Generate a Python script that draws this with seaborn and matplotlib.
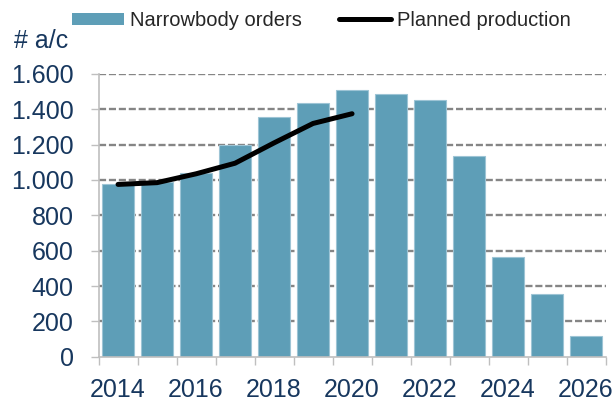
import matplotlib
matplotlib.use("Agg")
import matplotlib.pyplot as plt
import seaborn as sns
import pandas as pd
import numpy as np
from matplotlib.lines import Line2D
from matplotlib.patches import Patch

# Narrowbody orders per year and planned production (aircraft)
years = [2014, 2015, 2016, 2017, 2018, 2019, 2020, 2021, 2022, 2023, 2024, 2025, 2026]
orders = [975, 990, 1038, 1200, 1355, 1434, 1508, 1489, 1455, 1136, 562, 357, 117]
prod_years = [2014, 2015, 2016, 2017, 2018, 2019, 2020]
planned = [975, 985, 1035, 1095, 1210, 1320, 1375]
ytick_labels = ["0", "200", "400", "600", "800", "1.000", "1.200", "1.400", "1.600"]

BAR = "#5E9EB7"
TXT = "#17375E"
AXC = "#BFBFBF"

sns.set_theme(style="white")
plt.rcParams["font.family"] = ["Liberation Sans", "DejaVu Sans"]

fig = plt.figure(figsize=(6.16, 4.01), dpi=100)
ax = fig.add_axes([0.160, 0.1105, 0.823, 0.705])

df_bar = pd.DataFrame({"year": years, "orders": orders})
df_line = pd.DataFrame({"year": prod_years, "planned": planned})

sns.barplot(data=df_bar, x="year", y="orders", native_scale=True, width=0.83,
            color=BAR, saturation=1, edgecolor="#9DC4D5", linewidth=0.8,
            ax=ax, zorder=2)
sns.lineplot(data=df_line, x="year", y="planned", color="black", linewidth=3.6,
             ax=ax, zorder=3, solid_capstyle="round", solid_joinstyle="round")

ax.set_xlim(years[0] - 0.5, years[-1] + 0.5)
ax.set_ylim(0, 1600)

# dashed horizontal gridlines behind the bars
yt = np.arange(0, 1601, 200)
for v in yt[1:]:
    ax.axhline(v, color="#858585", linewidth=1.7, linestyle=(0, (3.0, 1.2)), zorder=1)

ax.set_yticks(yt)
ax.set_yticklabels(ytick_labels)
ax.set_xticks(years[::2])
ax.set_xticklabels([str(y) for y in years[::2]])
ax.set_xticks(np.arange(years[0] - 0.5, years[-1] + 1, 1.0), minor=True)

ax.tick_params(axis="x", which="major", length=0, pad=15.5, labelsize=18, labelcolor=TXT)
ax.tick_params(axis="x", which="minor", length=5.5, width=1, color=AXC, bottom=True)
ax.tick_params(axis="y", which="major", length=5.5, width=1, color=AXC, pad=12.5,
               labelsize=18, labelcolor=TXT, left=True)

ax.set_xlabel("")
ax.set_ylabel("")
for s in ["top", "right"]:
    ax.spines[s].set_visible(False)
for s in ["left", "bottom"]:
    ax.spines[s].set_color(AXC)
    ax.spines[s].set_linewidth(1.2)

fig.text(14 / 616, 1 - 41 / 401, "# a/c", fontsize=18, color=TXT, va="center", ha="left")

handles = [Patch(facecolor=BAR, edgecolor="none"),
           Line2D([0], [0], color="black", linewidth=3.6, solid_capstyle="round")]
fig.legend(handles, ["Narrowbody orders", "Planned production"], ncol=2,
           loc="center left", bbox_to_anchor=(72 / 616, 1 - 20.5 / 401),
           frameon=False, fontsize=14.5, handlelength=2.6, handleheight=0.6,
           handletextpad=0.3, columnspacing=1.8, borderpad=0, borderaxespad=0)

fig.savefig("out.png", dpi=100)
